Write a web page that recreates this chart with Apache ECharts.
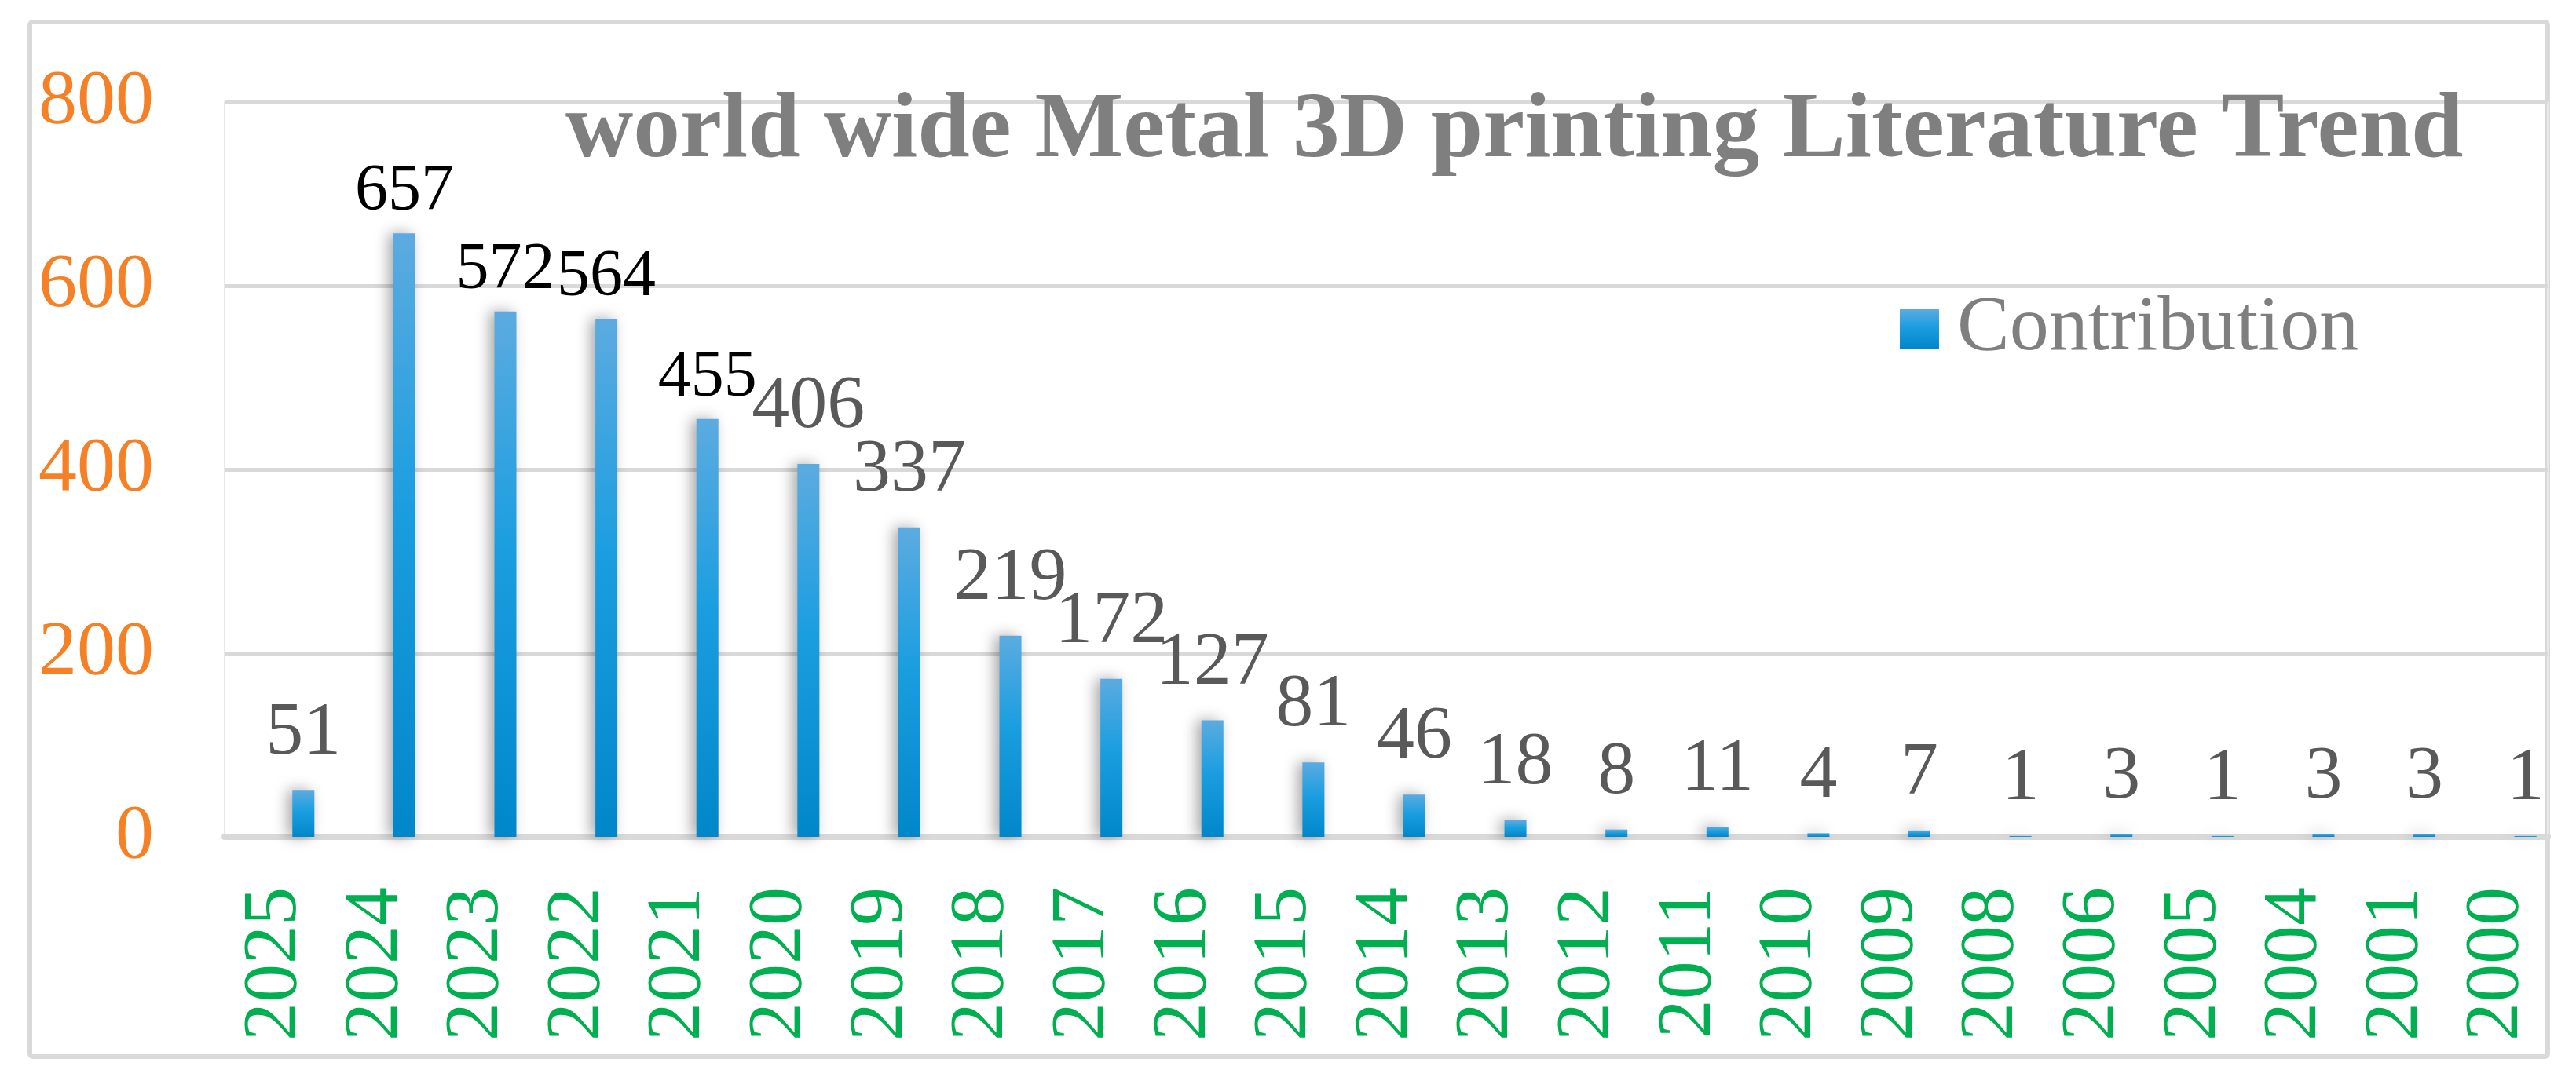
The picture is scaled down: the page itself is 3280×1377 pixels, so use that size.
<!DOCTYPE html>
<html>
<head>
<meta charset="utf-8">
<title>Metal 3D printing literature trend</title>
<script src="https://cdn.jsdelivr.net/npm/echarts@6/dist/echarts.min.js"></script>
<style>
  html, body { margin: 0; padding: 0; background: #fff; }
  #main { width: 3280px; height: 1377px; }
</style>
</head>
<body>
<div id="main"></div>
<script>
  // data
  const years = ['2025', '2024', '2023', '2022', '2021', '2020', '2019', '2018', '2017', '2016', '2015', '2014',
    '2013', '2012', '2011', '2010', '2009', '2008', '2006', '2005', '2004', '2001', '2000'];
  const contribution = [51, 657, 572, 564, 455, 406, 337, 219, 172, 127, 81, 46, 18, 8, 11, 4, 7, 1, 3, 1, 3, 3, 1];
  const yMin = 0, yMax = 800, yStep = 200;

  const serif = '"Liberation Serif", "Times New Roman", serif';

  let myChart = echarts.init(document.getElementById('main'));

  let barFill = new echarts.graphic.LinearGradient(0, 0, 0, 1, [
    { offset: 0, color: '#5cabe0' },
    { offset: 0.45, color: '#1b9ee0' },
    { offset: 1, color: '#0087ca' }
  ]);

  let option = {
    backgroundColor: '#fff',
    animation: false,
    title: {
      text: 'world wide Metal 3D printing Literature Trend',
      left: 720,
      top: 108,
      padding: 0,
      z: 10,
      textStyle: {
        fontFamily: serif,
        fontWeight: 'bold',
        fontSize: 119.5,
        lineHeight: 119.5,
        color: '#7f7f7f'
      }
    },
    legend: {
      data: ['Contribution'],
      left: 2419,
      top: 369,
      padding: 0,
      icon: 'rect',
      itemWidth: 50,
      itemHeight: 50,
      itemStyle: { shadowBlur: 0, shadowColor: 'transparent' },
      textStyle: {
        fontFamily: serif,
        fontSize: 100,
        lineHeight: 100,
        color: '#7f7f7f',
        padding: [0, 0, 0, 18]
      }
    },
    // outer frame of the figure
    graphic: [{
      type: 'rect',
      z: -1,
      shape: { x: 38, y: 28, width: 3206, height: 1318, r: 4 },
      style: { fill: 'none', stroke: '#d9d9d9', lineWidth: 6 }
    }],
    grid: {
      left: 286,
      right: 36,
      top: 130,
      bottom: 311,
      show: true,
      borderColor: '#e8e8e8',
      borderWidth: 2
    },
    xAxis: {
      type: 'category',
      data: years,
      axisTick: { show: false },
      axisLine: { lineStyle: { color: '#d9d9d9', width: 8 } },
      axisLabel: {
        rotate: 90,
        margin: 64,
        interval: 0,
        fontFamily: serif,
        fontSize: 98,
        color: '#00b050'
      }
    },
    yAxis: {
      type: 'value',
      min: yMin,
      max: yMax,
      interval: yStep,
      axisLine: { show: false },
      axisTick: { show: false },
      splitLine: { lineStyle: { color: '#d9d9d9', width: 5 } },
      axisLabel: {
        margin: 90,
        fontFamily: serif,
        fontSize: 98,
        color: '#f58025'
      }
    },
    series: [
      {
        // empty companion series, only keeps the real bar right of the category centre
        name: 'spacer',
        type: 'bar',
        data: [],
        barWidth: 28,
        barGap: '157%'
      },
      {
        name: 'Contribution',
        type: 'bar',
        data: contribution,
        barWidth: 28,
        barGap: '157%',
        itemStyle: {
          color: barFill,
          shadowBlur: 18,
          shadowOffsetX: -6,
          shadowColor: 'rgba(0,0,0,0.35)'
        },
        label: {
          show: true,
          position: 'top',
          distance: 10,
          formatter: function (p) {
            return p.value >= 450 ? '{dark|' + p.value + '}' : '{grey|' + p.value + '}';
          },
          rich: {
            dark: { fontFamily: serif, fontSize: 84, lineHeight: 84, color: '#000' },
            grey: { fontFamily: serif, fontSize: 96, lineHeight: 124, color: '#595959' }
          }
        }
      }
    ]
  };

  myChart.setOption(option);
</script>
</body>
</html>
